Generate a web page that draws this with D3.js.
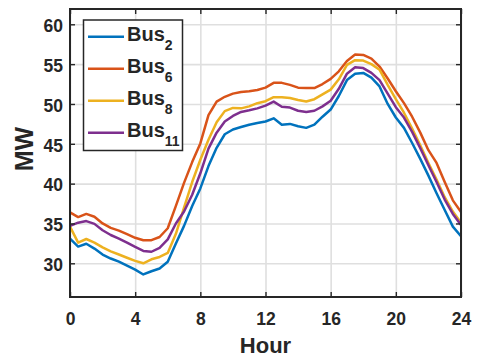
<!DOCTYPE html>
<html>
<head>
<meta charset="utf-8">
<script src="https://cdn.jsdelivr.net/npm/d3@7"></script>
<style>
    body { margin: 0; background: #fff; }
    text { font-family: "Liberation Sans", Arial, Helvetica, sans-serif; font-weight: bold; fill: #262626; }
</style>
</head>
<body>
<div id="plot"></div>
<script>
// half-hour samples, 0..24 h
const hours = d3.range(0, 24.01, 0.5);

const bus2 = [33.1, 32.1, 32.45, 31.85, 31.1, 30.6, 30.2, 29.7, 29.2, 28.6, 29.0, 29.35, 30.2,
    32.5, 34.7, 37.2, 39.4, 42.2, 44.5, 46.2, 46.8, 47.1, 47.4, 47.6, 47.8, 48.2, 47.4,
    47.5, 47.2, 47.0, 47.4, 48.4, 49.3, 51.0, 53.0, 53.8, 53.9, 53.3, 52.2, 50.0, 48.3,
    47.0, 45.1, 43.1, 41.0, 38.8, 36.7, 34.6, 33.4];
const bus6 = [36.4, 35.8, 36.2, 35.85, 35.0, 34.45, 34.1, 33.65, 33.2, 32.9, 32.9, 33.3, 34.4,
    37.2, 40.1, 42.7, 45.05, 48.6, 50.3, 50.9, 51.3, 51.5, 51.6, 51.75, 52.05, 52.65, 52.65,
    52.4, 52.05, 52.0, 52.0, 52.5, 53.15, 54.1, 55.4, 56.2, 56.15, 55.7, 54.7, 53.2, 51.6,
    50.1, 48.4, 46.4, 44.2, 42.6, 40.2, 37.9, 36.45];
const bus8 = [34.6, 32.6, 33.05, 32.6, 32.0, 31.5, 31.1, 30.7, 30.3, 30.0, 30.5, 30.8, 31.3,
    33.7, 37.0, 40.2, 43.0, 45.5, 47.7, 49.1, 49.5, 49.45, 49.7, 50.1, 50.35, 50.85, 50.85,
    50.75, 50.5, 50.3, 50.6, 51.2, 51.8, 53.1, 54.9, 55.5, 55.45, 55.0, 54.3, 52.4, 50.6,
    48.9, 46.9, 44.8, 42.6, 40.5, 38.3, 36.5, 35.1];
const bus11 = [34.7, 35.1, 35.3, 34.95, 34.15, 33.55, 33.1, 32.6, 32.05, 31.55, 31.45, 31.95, 33.0,
    35.0, 36.5, 38.6, 41.3, 44.4, 46.4, 47.8, 48.5, 49.0, 49.2, 49.45, 49.8, 50.3, 49.65,
    49.55, 49.15, 49.0, 49.15, 49.7, 50.4, 51.9, 53.8, 54.6, 54.5, 53.9, 53.0, 51.3, 49.6,
    48.3, 46.5, 44.45, 42.3, 40.2, 38.0, 36.2, 34.8];

const seriesNames = ["2", "6", "8", "11"];
const seriesValues = [bus2, bus6, bus8, bus11];
const colors = ["#0072BD", "#D95319", "#EDB120", "#7E2F8E"];

const xTicks = [0, 4, 8, 12, 16, 20, 24];
const yTicks = [30, 35, 40, 45, 50, 55, 60];

const width = 477, height = 359;
const margin = { top: 9, right: 16, bottom: 62, left: 70 };
const innerW = width - margin.left - margin.right;
const innerH = height - margin.top - margin.bottom;

let svg = d3.select("#plot").append("svg")
    .attr("width", width)
    .attr("height", height);

let g = svg.append("g")
    .attr("transform", `translate(${margin.left},${margin.top})`);

let x = d3.scaleLinear().domain([0, 24]).range([0, innerW]);
let y = d3.scaleLinear().domain([25.77, 61.92]).range([innerH, 0]);

// grid
g.append("g")
    .call(d3.axisBottom(x).tickValues(xTicks).tickSize(innerH).tickFormat(""))
    .call(a => a.select(".domain").remove())
    .selectAll("line").attr("stroke", "#dfdfdf").attr("stroke-width", 1.6);
g.append("g")
    .call(d3.axisLeft(y).tickValues(yTicks).tickSize(-innerW).tickFormat(""))
    .call(a => a.select(".domain").remove())
    .selectAll("line").attr("stroke", "#dfdfdf").attr("stroke-width", 1.6);

// lines
let line = d3.line()
    .x((d, i) => x(hours[i]))
    .y(d => y(d));

g.selectAll("path.series")
    .data(seriesValues)
    .join("path")
    .attr("class", "series")
    .attr("d", line)
    .attr("fill", "none")
    .attr("stroke", (d, i) => colors[i])
    .attr("stroke-width", 2.5)
    .attr("stroke-linejoin", "round");

// axes, ticks pointing inward
function styleAxis(a) {
    a.select(".domain").remove();
    a.selectAll("line").attr("stroke", "#262626").attr("stroke-width", 1.4);
    a.selectAll("text").style("font-size", "17.5px").attr("fill", "#262626");
}

g.append("g")
    .attr("transform", `translate(0,${innerH})`)
    .call(d3.axisBottom(x).tickValues(xTicks).tickSize(-5).tickPadding(15.5))
    .call(styleAxis);
g.append("g")
    .call(d3.axisTop(x).tickValues(xTicks).tickSize(-5).tickFormat(""))
    .call(styleAxis);
g.append("g")
    .call(d3.axisLeft(y).tickValues(yTicks).tickSize(-5).tickPadding(7))
    .call(styleAxis)
    .selectAll("text").attr("dy", "0.42em");
g.append("g")
    .attr("transform", `translate(${innerW},0)`)
    .call(d3.axisRight(y).tickValues(yTicks).tickSize(-5).tickFormat(""))
    .call(styleAxis);

g.append("rect")
    .attr("width", innerW)
    .attr("height", innerH)
    .attr("fill", "none")
    .attr("stroke", "#262626")
    .attr("stroke-width", 2);

// axis labels
svg.append("text")
    .attr("x", margin.left + innerW / 2)
    .attr("y", 353)
    .attr("text-anchor", "middle")
    .style("font-size", "22px")
    .text("Hour");

svg.append("text")
    .attr("transform", `translate(33,${margin.top + innerH / 2 - 4}) rotate(-90)`)
    .attr("text-anchor", "middle")
    .style("font-size", "25px")
    .text("MW");

// legend
let legend = svg.append("g").attr("transform", "translate(83.5,20)");
legend.append("rect")
    .attr("width", 99)
    .attr("height", 130.5)
    .attr("fill", "#fff")
    .attr("stroke", "#262626")
    .attr("stroke-width", 1.5);

let item = legend.selectAll("g.item")
    .data(seriesNames)
    .join("g")
    .attr("class", "item")
    .attr("transform", (d, i) => `translate(0,${20.7 + i * 32})`);

item.append("line")
    .attr("x1", 4.5).attr("x2", 40.5)
    .attr("y1", -4).attr("y2", -4)
    .attr("stroke", (d, i) => colors[i])
    .attr("stroke-width", 2.5);

let label = item.append("text")
    .attr("x", 43.5)
    .attr("y", 0)
    .style("font-size", "20px");
label.append("tspan").text("Bus");
label.append("tspan")
    .attr("dy", 9)
    .style("font-size", "14px")
    .text(d => d);
</script>
</body>
</html>
